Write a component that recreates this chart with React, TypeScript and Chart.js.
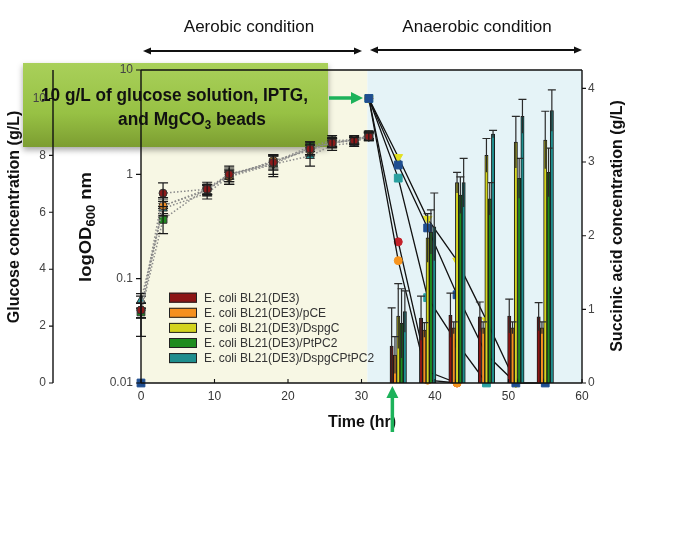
import React, { useEffect, useRef } from "react";
import { Chart, registerables } from "chart.js";
Chart.register(...registerables);

// ---------- data ----------
const strainLabels = [
  "E. coli BL21(DE3)",
  "E. coli BL21(DE3)/pCE",
  "E. coli BL21(DE3)/DspgC",
  "E. coli BL21(DE3)/PtPC2",
  "E. coli BL21(DE3)/DspgCPtPC2",
];

// OD600 (aerobic phase)
const odTimes = [0, 3, 9, 12, 18, 23, 26, 29, 31];
const odBL21 = [0.05, 0.66, 0.72, 1.0, 1.3, 1.75, 2.0, 2.1, 2.3];
const odPCE = [0.05, 0.5, 0.72, 0.95, 1.35, 1.7, 2.05, 2.1, 2.35];
const odDspgC = [0.05, 0.5, 0.7, 1.0, 1.25, 1.8, 2.0, 2.15, 2.3];
const odPtPC2 = [0.048, 0.37, 0.74, 1.0, 1.3, 1.85, 2.1, 2.15, 2.4];
const odDspgCPtPC2 = [0.062, 0.47, 0.66, 0.95, 1.25, 1.5, 1.9, 2.0, 2.35];
const odErrBL21 = [0.008, 0.17, 0.08, 0.1, 0.2, 0.2, 0.2, 0.15, 0.2];
const odErrPCE = [0.008, 0.1, 0.07, 0.1, 0.2, 0.2, 0.2, 0.15, 0.2];
const odErrDspgC = [0.008, 0.08, 0.08, 0.15, 0.3, 0.25, 0.2, 0.15, 0.2];
const odErrPtPC2 = [0.02, 0.1, 0.1, 0.2, 0.2, 0.2, 0.25, 0.2, 0.2];
const odErrDspgCPtPC2 = [0.01, 0.08, 0.08, 0.15, 0.25, 0.3, 0.2, 0.15, 0.15];

// Glucose (anaerobic phase)
const glcTimesBL21 = [31, 35, 39, 43];
const glcBL21 = [10, 4.96, 0.4, 0];
const glcTimesPCE = [31, 35, 39, 43];
const glcPCE = [10, 4.3, 0.1, 0];
const glcTimesDspgC = [31, 35, 39, 43, 47, 51];
const glcDspgC = [10, 7.94, 5.77, 4.3, 2.2, 0];
const glcTimesPtPC2 = [31, 35, 39, 43, 47, 51, 55];
const glcPtPC2 = [10, 7.66, 5.45, 3.1, 1.0, 0, 0];
const glcTimesDspgCPtPC2 = [31, 35, 39, 43, 47];
const glcDspgCPtPC2 = [10, 7.2, 3.0, 1.4, 0];
const glcStartTime = [0];
const glcStart = [0];

// Succinic acid (bars)
const sucTimes = [35, 39, 43, 47, 51, 55];
const sucBL21 = [0.5, 0.88, 0.92, 0.9, 0.91, 0.9];
const sucPCE = [0.38, 0.72, 0.75, 0.75, 0.75, 0.75];
const sucDspgC = [0.91, 1.97, 2.72, 3.09, 3.27, 3.3];
const sucPtPC2 = [0.81, 2.05, 2.55, 2.5, 2.78, 2.86];
const sucDspgCPtPC2 = [0.97, 2.12, 2.72, 3.38, 3.62, 3.7];
const sucErrBL21 = [0.52, 0.3, 0.3, 0.2, 0.23, 0.19];
const sucErrPCE = [0.25, 0.1, 0.08, 0.08, 0.08, 0.08];
const sucErrDspgC = [0.44, 0.33, 0.14, 0.23, 0.35, 0.39];
const sucErrPtPC2 = [0.47, 0.3, 0.25, 0.22, 0.27, 0.33];
const sucErrDspgCPtPC2 = [0.28, 0.46, 0.33, 0.05, 0.23, 0.28];

// ticks
const xTickValues = [0, 10, 20, 30, 40, 50, 60];
const glucoseTicks = [0, 2, 4, 6, 8, 10];
const odTicks = [0.01, 0.1, 1, 10];
const sucTicks = [0, 1, 2, 3, 4];
const shadeSplit = 30.8;

// ---------- styles ----------
const FONT = "'Liberation Sans', Arial, sans-serif";
const barColors = ["#8c1414", "#f5901e", "#d4d41e", "#1e8c1e", "#1e8e8e"];
const odColors = ["#8c1a1a", "#f39025", "#d8d820", "#1e8a1e", "#2a9d9d"];
const odShapes = ["circle", "circle", "triangle", "rect", "triangle"];
const odRot = [0, 0, 180, 0, 0];
const odRadius = [4, 4, 5, 5.5, 5];
const glcColors = ["#c4222a", "#f7941d", "#e2e020", "#1f4e91", "#2aa0a0"];
const glcShapes = ["circle", "circle", "triangle", "rect", "rect"];
const glcRot = [0, 0, 180, 0, 0];
const glcRadius = [4, 4, 5, 5.5, 5.5];
const glcOrder = [12, 10, 10, 9, 10];

const zip = (xs: number[], ys: number[]) => xs.map((x, i) => ({ x, y: ys[i] }));

function arrowHead(ctx: CanvasRenderingContext2D, x: number, y: number, ang: number, len: number, half: number) {
  ctx.beginPath();
  ctx.moveTo(x, y);
  ctx.lineTo(x - len * Math.cos(ang) + half * Math.sin(ang), y - len * Math.sin(ang) - half * Math.cos(ang));
  ctx.lineTo(x - len * Math.cos(ang) - half * Math.sin(ang), y - len * Math.sin(ang) + half * Math.cos(ang));
  ctx.closePath();
  ctx.fill();
}

type Part = { t: string; size: number; dy: number };
function drawParts(ctx: CanvasRenderingContext2D, parts: Part[], x: number, y: number, width: number | null, weight: string) {
  let total = 0;
  const ws = parts.map((p) => {
    ctx.font = `${weight} ${p.size}px ${FONT}`;
    const w = ctx.measureText(p.t).width;
    total += w;
    return w;
  });
  const sx = width ? width / total : 1;
  ctx.save();
  ctx.translate(x, y);
  ctx.scale(sx, 1);
  let cx = 0;
  ctx.textAlign = "left";
  ctx.textBaseline = "alphabetic";
  parts.forEach((p, i) => {
    ctx.font = `${weight} ${p.size}px ${FONT}`;
    ctx.fillText(p.t, cx, p.dy);
    cx += ws[i];
  });
  ctx.restore();
  return total * sx;
}

const decor = {
  id: "decor",
  beforeDraw(chart: any) {
    const { ctx, chartArea: ca, scales } = chart;
    ctx.save();
    ctx.fillStyle = "#ffffff";
    ctx.fillRect(0, 0, chart.width, chart.height);
    const xs = scales.x.getPixelForValue(shadeSplit);
    ctx.fillStyle = "#f7f7e4";
    ctx.fillRect(ca.left, ca.top, xs - ca.left, ca.bottom - ca.top);
    ctx.fillStyle = "#e5f3f7";
    ctx.fillRect(xs, ca.top, ca.right - xs, ca.bottom - ca.top);

    // green annotation box
    const bx = 23, by = 63, bw = 305, bh = 84;
    ctx.save();
    ctx.shadowColor = "rgba(0,0,0,0.35)";
    ctx.shadowBlur = 6;
    ctx.shadowOffsetY = 3;
    const g = ctx.createLinearGradient(0, by, 0, by + bh);
    g.addColorStop(0, "#a9d05a");
    g.addColorStop(0.6, "#97c144");
    g.addColorStop(1, "#7c9d31");
    ctx.fillStyle = g;
    ctx.fillRect(bx, by, bw, bh);
    ctx.restore();
    ctx.fillStyle = "#111";
    drawParts(ctx, [{ t: "10 g/L of glucose solution, IPTG,", size: 18, dy: 0 }], 41, 101, 267, "bold");
    drawParts(
      ctx,
      [
        { t: "and MgCO", size: 18, dy: 0 },
        { t: "3", size: 12, dy: 4 },
        { t: " beads", size: 18, dy: 0 },
      ],
      118,
      125,
      148,
      "bold"
    );
    ctx.restore();
  },
  afterDatasetDraw(chart: any, args: any) {
    const ds = chart.data.datasets[args.index];
    const meta = args.meta;
    const { ctx, scales } = chart;
    if (ds.sucErr) {
      const ys = scales.yS;
      ctx.save();
      ctx.strokeStyle = "#2b2b2b";
      ctx.lineWidth = 1.2;
      meta.data.forEach((el: any, i: number) => {
        const v = ds.data[i].y;
        const e = ds.sucErr[i];
        const yHi = ys.getPixelForValue(v + e);
        const yLo = ys.getPixelForValue(Math.max(0, v - e));
        ctx.beginPath();
        ctx.moveTo(el.x, yLo);
        ctx.lineTo(el.x, yHi);
        ctx.moveTo(el.x - 4, yHi);
        ctx.lineTo(el.x + 4, yHi);
        ctx.stroke();
      });
      ctx.restore();
    }
    if (ds.odErr) {
      const yo = scales.yOD;
      ctx.save();
      ctx.strokeStyle = "#1a1a1a";
      ctx.lineWidth = 1.2;
      meta.data.forEach((el: any, i: number) => {
        const v = ds.data[i].y;
        const e = ds.odErr[i];
        const yHi = yo.getPixelForValue(v + e);
        const yLo = yo.getPixelForValue(Math.max(0.011, v - e));
        ctx.beginPath();
        ctx.moveTo(el.x, yLo);
        ctx.lineTo(el.x, yHi);
        ctx.moveTo(el.x - 5, yHi);
        ctx.lineTo(el.x + 5, yHi);
        ctx.moveTo(el.x - 5, yLo);
        ctx.lineTo(el.x + 5, yLo);
        ctx.stroke();
      });
      ctx.restore();
    }
  },
  afterDraw(chart: any) {
    const { ctx, chartArea: ca, scales } = chart;
    ctx.save();
    ctx.strokeStyle = "#111";
    ctx.lineWidth = 1.4;
    const gx = scales.yG.right;
    ctx.beginPath();
    ctx.moveTo(ca.left, ca.top);
    ctx.lineTo(ca.right, ca.top);
    ctx.moveTo(ca.left, ca.top);
    ctx.lineTo(ca.left, ca.bottom);
    ctx.moveTo(ca.right, ca.top);
    ctx.lineTo(ca.right, ca.bottom);
    ctx.moveTo(ca.left, ca.bottom);
    ctx.lineTo(ca.right, ca.bottom);
    ctx.moveTo(gx, ca.top);
    ctx.lineTo(gx, ca.bottom);
    ctx.stroke();
    ctx.lineWidth = 1.1;
    ctx.beginPath();
    glucoseTicks.forEach((v) => {
      const y = scales.yG.getPixelForValue(v);
      ctx.moveTo(gx - 4, y);
      ctx.lineTo(gx, y);
    });
    odTicks.forEach((v) => {
      const y = scales.yOD.getPixelForValue(v);
      ctx.moveTo(ca.left - 5, y);
      ctx.lineTo(ca.left, y);
    });
    sucTicks.forEach((v) => {
      const y = scales.yS.getPixelForValue(v);
      ctx.moveTo(ca.right, y);
      ctx.lineTo(ca.right + 4, y);
    });
    xTickValues.forEach((v) => {
      const x = scales.x.getPixelForValue(v);
      ctx.moveTo(x, ca.bottom);
      ctx.lineTo(x, ca.bottom - 4);
    });
    ctx.stroke();

    // axis titles
    ctx.fillStyle = "#111";
    ctx.font = `bold 16px ${FONT}`;
    ctx.textAlign = "center";
    ctx.textBaseline = "middle";
    ctx.save();
    ctx.translate(15, 217);
    ctx.rotate(-Math.PI / 2);
    ctx.fillText("Glucose concentration (g/L)", 0, 0);
    ctx.restore();
    ctx.save();
    ctx.translate(618, 226);
    ctx.rotate(-Math.PI / 2);
    ctx.fillText("Succinic acid concentration (g/L)", 0, 0);
    ctx.restore();
    ctx.save();
    ctx.translate(91, 282);
    ctx.rotate(-Math.PI / 2);
    drawParts(
      ctx,
      [
        { t: "logOD", size: 17, dy: 0 },
        { t: "600", size: 12, dy: 4 },
        { t: " nm", size: 17, dy: 0 },
      ],
      0,
      0,
      110,
      "bold"
    );
    ctx.restore();
    ctx.font = `bold 16px ${FONT}`;
    ctx.textAlign = "center";
    ctx.textBaseline = "middle";
    ctx.fillText("Time (hr)", 362, 423);

    // phase labels & arrows
    ctx.font = `17px ${FONT}`;
    ctx.fillText("Aerobic condition", 249, 27);
    ctx.fillText("Anaerobic condition", 477, 27);
    ctx.strokeStyle = "#111";
    ctx.fillStyle = "#111";
    ctx.lineWidth = 2;
    const dbl = (x1: number, x2: number, y: number) => {
      ctx.beginPath();
      ctx.moveTo(x1 + 4, y);
      ctx.lineTo(x2 - 4, y);
      ctx.stroke();
      arrowHead(ctx, x1, y, Math.PI, 8, 3.5);
      arrowHead(ctx, x2, y, 0, 8, 3.5);
    };
    dbl(143, 362, 51);
    dbl(370, 582, 50);

    // green arrows
    ctx.strokeStyle = "#1db25a";
    ctx.fillStyle = "#1db25a";
    ctx.lineWidth = 3.5;
    ctx.beginPath();
    ctx.moveTo(329, 98);
    ctx.lineTo(352, 98);
    ctx.stroke();
    arrowHead(ctx, 363, 98, 0, 12, 6);
    const ax = scales.x.getPixelForValue(34.2);
    ctx.beginPath();
    ctx.moveTo(ax, 432);
    ctx.lineTo(ax, 397);
    ctx.stroke();
    arrowHead(ctx, ax, 386, -Math.PI / 2, 12, 6);

    // legend
    ctx.font = `12px ${FONT}`;
    ctx.textAlign = "left";
    ctx.textBaseline = "middle";
    strainLabels.forEach((lab, i) => {
      const y = 297.7 + i * 15.1;
      ctx.fillStyle = barColors[i];
      ctx.fillRect(169, y - 5, 28, 10);
      ctx.strokeStyle = "#222";
      ctx.lineWidth = 1;
      ctx.strokeRect(169.5, y - 4.5, 27, 9);
      ctx.fillStyle = "#333";
      ctx.fillText(lab, 204, y + 0.5);
    });
    ctx.restore();
  },
};

export default function App() {
  const ref = useRef<HTMLCanvasElement>(null);
  useEffect(() => {
    const canvas = ref.current!;
    Chart.defaults.font.family = FONT;
    Chart.defaults.font.size = 12;

    const sucSeries = [sucBL21, sucPCE, sucDspgC, sucPtPC2, sucDspgCPtPC2];
    const sucErrs = [sucErrBL21, sucErrPCE, sucErrDspgC, sucErrPtPC2, sucErrDspgCPtPC2];
    const odSeries = [odBL21, odPCE, odDspgC, odPtPC2, odDspgCPtPC2];
    const odErrs = [odErrBL21, odErrPCE, odErrDspgC, odErrPtPC2, odErrDspgCPtPC2];
    const glcTimes = [glcTimesBL21, glcTimesPCE, glcTimesDspgC, glcTimesPtPC2, glcTimesDspgCPtPC2];
    const glcSeries = [glcBL21, glcPCE, glcDspgC, glcPtPC2, glcDspgCPtPC2];

    const datasets: any[] = [];
    sucSeries.forEach((s, i) => {
      datasets.push({
        type: "bar",
        label: strainLabels[i],
        data: zip(sucTimes, s),
        sucErr: sucErrs[i],
        xAxisID: "x",
        yAxisID: "yS",
        backgroundColor: barColors[i],
        borderColor: "#1a1a1a",
        borderWidth: 1,
        barThickness: 3.3,
        order: 1,
      });
    });
    odSeries.forEach((s, i) => {
      datasets.push({
        type: "line",
        label: strainLabels[i] + " OD",
        data: zip(odTimes, s),
        odErr: odErrs[i],
        xAxisID: "x",
        yAxisID: "yOD",
        borderColor: "#8a8a8a",
        borderWidth: 1.5,
        borderDash: [1.5, 2],
        pointStyle: odShapes[i],
        pointRotation: odRot[i],
        pointRadius: odRadius[i],
        pointBackgroundColor: odColors[i],
        pointBorderColor: "#333",
        pointBorderWidth: 1,
        clip: false,
        order: 5,
      });
    });
    glcSeries.forEach((s, i) => {
      datasets.push({
        type: "line",
        label: strainLabels[i] + " glucose",
        data: zip(glcTimes[i], s),
        xAxisID: "x",
        yAxisID: "yG",
        borderColor: "#111",
        borderWidth: 1.3,
        pointStyle: glcShapes[i],
        pointRotation: glcRot[i],
        pointRadius: glcRadius[i],
        pointBackgroundColor: glcColors[i],
        pointBorderColor: glcColors[i],
        pointBorderWidth: 1,
        clip: false,
        order: glcOrder[i],
      });
    });
    datasets.push({
      type: "line",
      label: "glucose t0",
      data: zip(glcStartTime, glcStart),
      xAxisID: "x",
      yAxisID: "yG",
      showLine: false,
      pointStyle: "rect",
      pointRadius: 5.5,
      pointBackgroundColor: glcColors[3],
      pointBorderColor: glcColors[3],
      clip: false,
      order: 9,
    });

    const tickFont = { size: 12, family: FONT };
    const chart = new Chart(canvas, {
      type: "bar",
      data: { datasets },
      plugins: [decor as any],
      options: {
        responsive: false,
        animation: false,
        events: [],
        layout: { padding: { left: 0, right: 45, top: 70, bottom: 105 } },
        plugins: { legend: { display: false }, tooltip: { enabled: false } },
        scales: {
          x: {
            type: "linear",
            position: "bottom",
            offset: false,
            min: 0,
            max: 60,
            afterBuildTicks: (s: any) => {
              s.ticks = xTickValues.map((v) => ({ value: v }));
            },
            ticks: { padding: 6, color: "#333", font: tickFont, maxRotation: 0 },
            grid: { display: false, drawTicks: false, offset: false },
            border: { display: false },
            afterFit: (s: any) => {
              s.height = 50;
            },
          },
          yG: {
            type: "linear",
            position: "left",
            weight: 2,
            min: 0,
            max: 11,
            afterBuildTicks: (s: any) => {
              s.ticks = glucoseTicks.map((v) => ({ value: v }));
            },
            ticks: { padding: 7, color: "#444", font: tickFont },
            grid: { display: false, drawTicks: false },
            border: { display: false },
            afterFit: (s: any) => {
              s.width = 53;
            },
          },
          yOD: {
            type: "logarithmic",
            position: "left",
            weight: 1,
            min: 0.01,
            max: 10,
            afterBuildTicks: (s: any) => {
              s.ticks = odTicks.map((v) => ({ value: v }));
            },
            ticks: {
              padding: 8,
              color: "#444",
              font: tickFont,
              autoSkip: false,
              callback: (v: any) => String(v),
            },
            grid: { display: false, drawTicks: false },
            border: { display: false },
            afterFit: (s: any) => {
              s.width = 88;
            },
          },
          yS: {
            type: "linear",
            position: "right",
            min: 0,
            max: 4.25,
            afterBuildTicks: (s: any) => {
              s.ticks = sucTicks.map((v) => ({ value: v }));
            },
            ticks: { padding: 6, color: "#444", font: tickFont },
            grid: { display: false, drawTicks: false },
            border: { display: false },
            afterFit: (s: any) => {
              s.width = 70;
            },
          },
        },
      } as any,
    } as any);
    return () => chart.destroy();
  }, []);
  return (
    <div style={{ position: "fixed", left: 0, top: 0, width: 697, height: 538, background: "#fff" }}>
      <canvas ref={ref} width={697} height={538} style={{ display: "block", width: 697, height: 538 }} />
    </div>
  );
}
